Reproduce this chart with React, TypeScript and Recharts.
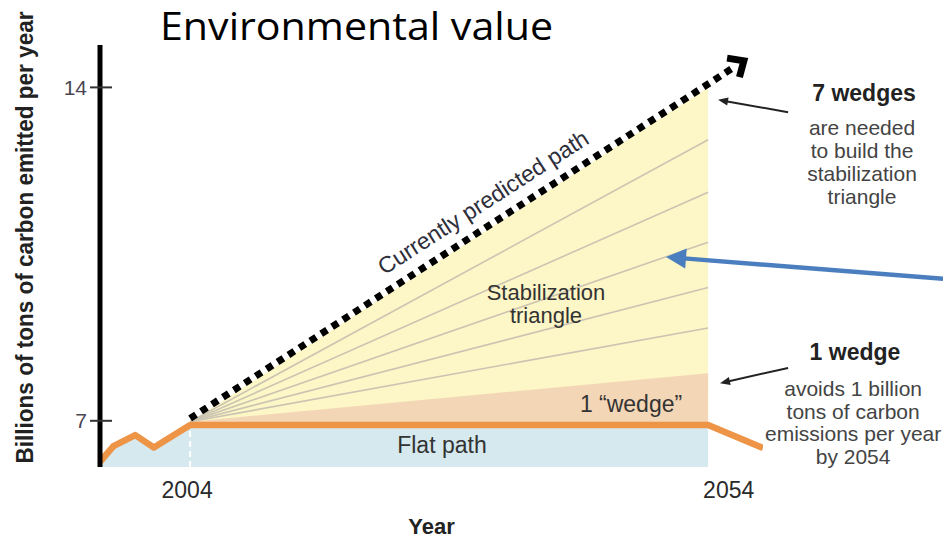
import React from 'react';
import {
  ComposedChart,
  Area,
  Line,
  XAxis,
  YAxis,
  ReferenceLine,
  ReferenceDot,
} from 'recharts';

const FONT = '"Liberation Sans", Arial, Helvetica, sans-serif';

// x categories (years)
const years = [1995.3, 1996.6, 1998.7, 2000.5, 2004, 2054, 2056.4, 2059.3];
// emissions actually followed, then the flat path (billions of tons of carbon / yr)
const emissionsPath = [6.14, 6.47, 6.7, 6.44, 6.91, 6.91, null, 6.43];
// currently predicted path (dotted)
const predictedPath = [null, null, null, null, 7.05, 14.07, 14.41, null];
// flat path level and wedge fan origin
const flatLevel = 6.91;
const wedgeStart = 6.98;
// wedge boundaries reached in 2054 (1 wedge ... 7 wedges)
const wedgeTops2054 = [8.0, 8.95, 9.8, 10.75, 11.8, 12.9, 14.0];

const xTicks = [2004, 2054];
const yTicks = [7, 14];
const xDomain = [1995.3, 2059.3];
const yDomain = [6.03, 14.89];

const data = years.map((year, i) => {
  const row: any = {
    year,
    path: emissionsPath[i],
    predicted: predictedPath[i],
    flatFill: year <= 2054 ? emissionsPath[i] : null,
  };
  if (year === 2004 || year === 2054) {
    const tops = year === 2004 ? wedgeTops2054.map(() => wedgeStart) : wedgeTops2054;
    row.triangle = [flatLevel, tops[tops.length - 1]];
    row.wedge1 = [flatLevel, tops[0]];
    tops.forEach((t, k) => {
      row['w' + (k + 1)] = t;
    });
  }
  return row;
});

const arrowIndex = years.indexOf(2056.4);

const ArrowDot = (p: any) => {
  const { cx, cy, index } = p;
  if (index !== arrowIndex || cx == null || cy == null) return <g key={'d' + index} />;
  const a = (33 * Math.PI) / 180;
  const ux = Math.cos(a);
  const uy = -Math.sin(a);
  const tx = cx + ux * 13;
  const ty = cy + uy * 13;
  const arm = 17;
  const s = (42 * Math.PI) / 180;
  const r1x = ux * Math.cos(s) - uy * Math.sin(s);
  const r1y = ux * Math.sin(s) + uy * Math.cos(s);
  const r2x = ux * Math.cos(-s) - uy * Math.sin(-s);
  const r2y = ux * Math.sin(-s) + uy * Math.cos(-s);
  return (
    <polyline
      key={'d' + index}
      points={`${tx - arm * r1x},${ty - arm * r1y} ${tx},${ty} ${tx - arm * r2x},${ty - arm * r2y}`}
      fill="none"
      stroke="#000"
      strokeWidth={7}
      strokeLinejoin="miter"
    />
  );
};

const textShape =
  (
    lines: string[],
    opts: { size: number; color: string; weight?: string; lineH?: number; rotate?: number }
  ) =>
  (p: any) => {
    const { cx, cy } = p;
    return (
      <text
        x={cx}
        y={cy}
        textAnchor="middle"
        fontFamily={FONT}
        fontSize={opts.size}
        fontWeight={opts.weight || 'normal'}
        fill={opts.color}
        transform={opts.rotate ? `rotate(${opts.rotate} ${cx} ${cy})` : undefined}
      >
        {lines.map((l, i) => (
          <tspan key={i} x={cx} dy={i === 0 ? '0.35em' : opts.lineH || 22}>
            {l}
          </tspan>
        ))}
      </text>
    );
  };

const arrowShape =
  (color: string, width: number, headLen: number, headW: number) => (p: any) => {
    const { x1, y1, x2, y2 } = p;
    const dx = x2 - x1;
    const dy = y2 - y1;
    const L = Math.hypot(dx, dy) || 1;
    const ux = dx / L;
    const uy = dy / L;
    const bx = x2 - ux * headLen;
    const by = y2 - uy * headLen;
    const px = -uy;
    const py = ux;
    return (
      <g>
        <line x1={x1} y1={y1} x2={bx + ux * 2} y2={by + uy * 2} stroke={color} strokeWidth={width} />
        <polygon
          points={`${x2},${y2} ${bx + (px * headW) / 2},${by + (py * headW) / 2} ${bx - (px * headW) / 2},${by - (py * headW) / 2}`}
          fill={color}
        />
      </g>
    );
  };

const YTick = (props: any) => {
  const { x, y, payload } = props;
  return (
    <g>
      <line x1={x - 10} x2={x + 12} y1={y} y2={y} stroke="#333" strokeWidth={2} />
      <text x={x - 13} y={y} dy="0.36em" textAnchor="end" fontSize={21} fontFamily={FONT} fill="#4a4453">
        {payload.value}
      </text>
    </g>
  );
};

const XTick = (props: any) => {
  const { x, y, payload } = props;
  const last = payload.value === xTicks[xTicks.length - 1];
  return (
    <text
      x={last ? x - 5 : x - 3}
      y={y + 31}
      textAnchor={last ? 'start' : 'middle'}
      fontSize={23}
      fontFamily={FONT}
      fill="#2a2a2a"
    >
      {payload.value}
    </text>
  );
};

const YLabel = (props: any) => {
  const vb = props.viewBox || { x: 0, y: 45, width: 100, height: 422 };
  const cx = vb.x + 33;
  const cy = vb.y + vb.height / 2 - 18.5;
  return (
    <text
      x={cx}
      y={cy}
      textAnchor="middle"
      fontFamily={FONT}
      fontWeight="bold"
      fontSize={23}
      fill="#222"
      textLength={452}
      lengthAdjust="spacingAndGlyphs"
      transform={`rotate(-90 ${cx} ${cy})`}
    >
      Billions of tons of carbon emitted per year
    </text>
  );
};

const XLabel = (props: any) => {
  const vb = props.viewBox || { x: 100, y: 467, width: 663, height: 72 };
  return (
    <text
      x={vb.x + vb.width / 2}
      y={vb.y + vb.height - 5}
      textAnchor="middle"
      fontFamily={FONT}
      fontWeight="bold"
      fontSize={22}
      fill="#222"
    >
      Year
    </text>
  );
};

export default function App() {
  return (
    <div style={{ position: 'absolute', left: 0, top: 0, width: 943, height: 539, background: '#fff' }}>
      <ComposedChart
        width={943}
        height={539}
        data={data}
        margin={{ top: 45, right: 180, bottom: 0, left: 0 }}
      >
        <XAxis
          dataKey="year"
          type="number"
          domain={xDomain}
          allowDataOverflow
          ticks={xTicks}
          interval={0}
          axisLine={false}
          tickLine={false}
          tickSize={0}
          tickMargin={0}
          height={72}
          tick={<XTick />}
          label={{ content: XLabel }}
        />
        <YAxis
          type="number"
          domain={yDomain}
          allowDataOverflow
          ticks={yTicks}
          interval={0}
          width={100}
          axisLine={{ stroke: '#000', strokeWidth: 5 }}
          tickLine={false}
          tickSize={0}
          tickMargin={0}
          tick={<YTick />}
          label={{ content: YLabel }}
        />
        <Area
          dataKey="flatFill"
          type="linear"
          fill="#d5e9ee"
          fillOpacity={1}
          stroke="none"
          isAnimationActive={false}
        />
        <Area
          dataKey="triangle"
          type="linear"
          fill="#fdf6c6"
          fillOpacity={1}
          stroke="none"
          isAnimationActive={false}
        />
        <Area
          dataKey="wedge1"
          type="linear"
          fill="#f3d6b6"
          fillOpacity={1}
          stroke="none"
          isAnimationActive={false}
        />
        {[2, 3, 4, 5, 6].map((k) => (
          <Line
            key={k}
            dataKey={'w' + k}
            type="linear"
            stroke="#cbc4b2"
            strokeWidth={1.6}
            dot={false}
            isAnimationActive={false}
          />
        ))}
        <Line
          dataKey="path"
          type="linear"
          stroke="#ee9447"
          strokeWidth={6.5}
          dot={false}
          connectNulls
          strokeLinejoin="round"
          isAnimationActive={false}
        />
        <Line
          dataKey="predicted"
          type="linear"
          stroke="#000"
          strokeWidth={7}
          strokeDasharray="7 6"
          dot={ArrowDot}
          isAnimationActive={false}
        />
        <ReferenceLine
          segment={[
            { x: 2004, y: 6.03 },
            { x: 2004, y: 6.84 },
          ]}
          stroke="#fff"
          strokeWidth={2}
          strokeDasharray="6 4"
          ifOverflow="visible"
        />
        <ReferenceDot
          x={2032.27}
          y={11.59}
          ifOverflow="visible"
          shape={textShape(['Currently predicted path'], { size: 23, color: '#2e2e3a', rotate: -32.8 })}
        />
        <ReferenceDot
          x={2038.35}
          y={9.7}
          ifOverflow="visible"
          shape={textShape(['Stabilization', 'triangle'], { size: 22, color: '#333', lineH: 23 })}
        />
        <ReferenceDot
          x={2046.56}
          y={7.35}
          ifOverflow="visible"
          shape={textShape(['1 \u201Cwedge\u201D'], { size: 23, color: '#333' })}
        />
        <ReferenceDot
          x={2028.31}
          y={6.49}
          ifOverflow="visible"
          shape={textShape(['Flat path'], { size: 23, color: '#333' })}
        />
        <ReferenceDot
          x={2069.05}
          y={13.88}
          ifOverflow="visible"
          shape={textShape(['7 wedges'], { size: 23, color: '#222', weight: 'bold' })}
        />
        <ReferenceDot
          x={2068.86}
          y={13.15}
          ifOverflow="visible"
          shape={textShape(['are needed', 'to build the', 'stabilization', 'triangle'], {
            size: 21,
            color: '#444',
            lineH: 23,
          })}
        />
        <ReferenceDot
          x={2068.18}
          y={8.44}
          ifOverflow="visible"
          shape={textShape(['1 wedge'], { size: 23, color: '#222', weight: 'bold' })}
        />
        <ReferenceDot
          x={2068.0}
          y={7.67}
          ifOverflow="visible"
          shape={textShape(['avoids 1 billion', 'tons of carbon', 'emissions per year', 'by 2054'], {
            size: 21,
            color: '#444',
            lineH: 22.5,
          })}
        />
        <ReferenceLine
          segment={[
            { x: 2061.72, y: 13.48 },
            { x: 2054.96, y: 13.74 },
          ]}
          ifOverflow="visible"
          shape={arrowShape('#222', 2, 10, 8)}
        />
        <ReferenceLine
          segment={[
            { x: 2061.72, y: 8.11 },
            { x: 2055.15, y: 7.79 },
          ]}
          ifOverflow="visible"
          shape={arrowShape('#222', 2, 10, 8)}
        />
        <ReferenceLine
          segment={[
            { x: 2076.68, y: 9.98 },
            { x: 2049.94, y: 10.44 },
          ]}
          ifOverflow="visible"
          shape={arrowShape('#4a7ebf', 4.5, 20, 20)}
        />
      </ComposedChart>
      <svg
        width={943}
        height={60}
        style={{ position: 'absolute', left: 0, top: 0, pointerEvents: 'none' }}
      >
        <text
          x={160}
          y={39.5}
          fontFamily={'"Open Sans", sans-serif'}
          fontSize={38}
          fill="#000"
          textLength={393}
          lengthAdjust="spacingAndGlyphs"
        >
          Environmental value
        </text>
      </svg>
    </div>
  );
}
